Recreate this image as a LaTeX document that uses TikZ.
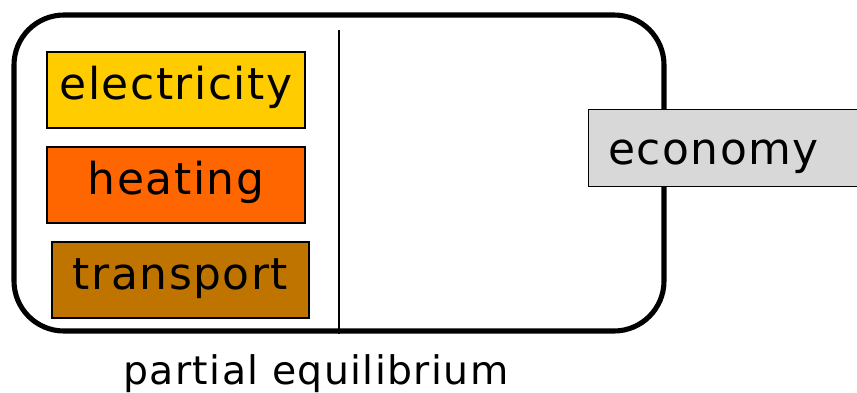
\documentclass[tikz,border=0pt]{standalone}
\usepackage{fontspec}
\setmainfont[LetterSpace=3.5]{DejaVu Sans}
\definecolor{elecfill}{HTML}{FFCC00}
\definecolor{heatfill}{HTML}{FF6600}
\definecolor{transfill}{HTML}{C07400}
\definecolor{econfill}{HTML}{D8D8D8}
\tikzset{
  sector/.style={draw=black, line width=0.6pt, minimum height=1.52cm,
    inner sep=0pt, text height=18pt, text depth=7.2pt,
    font=\fontsize{25pt}{30pt}\selectfont},
  frame/.style={draw=black, line width=2.9pt, rounded corners=1cm,
    minimum width=13cm, minimum height=6.32cm, inner sep=0pt},
}
\begin{document}
\begin{tikzpicture}
  \useasboundingbox (0,0) rectangle (17.14,-7.84);

  % outer model boundary
  \node[frame] (frame) at (6.78,-3.46) {};

  % divider between the sector models and the rest
  \coordinate (divtop) at (6.78,-0.60);
  \draw[line width=0.7pt] (divtop) -- (frame.south);

  % sector boxes
  \node[sector, fill=elecfill, minimum width=5.16cm] (elec) at (3.52,-1.80) {electricity};
  \node[sector, fill=heatfill, minimum width=5.16cm] (heat) at (3.52,-3.70) {heating};
  \node[sector, fill=transfill, minimum width=5.14cm] (trans) at (3.61,-5.60) {transport};

  % economy box, running past the right edge
  \node[sector, fill=econfill, anchor=west, text width=6cm, align=left,
        inner xsep=0.39cm, minimum height=1.54cm,
        text height=24pt, text depth=4.8pt] (econ) at (11.76,-2.96) {economy};

  % caption
  \node[anchor=base, inner sep=0pt, font=\fontsize{22.4pt}{28pt}\selectfont]
    (caption) at (6.32,-7.68) {partial equilibrium};
\end{tikzpicture}
\end{document}
